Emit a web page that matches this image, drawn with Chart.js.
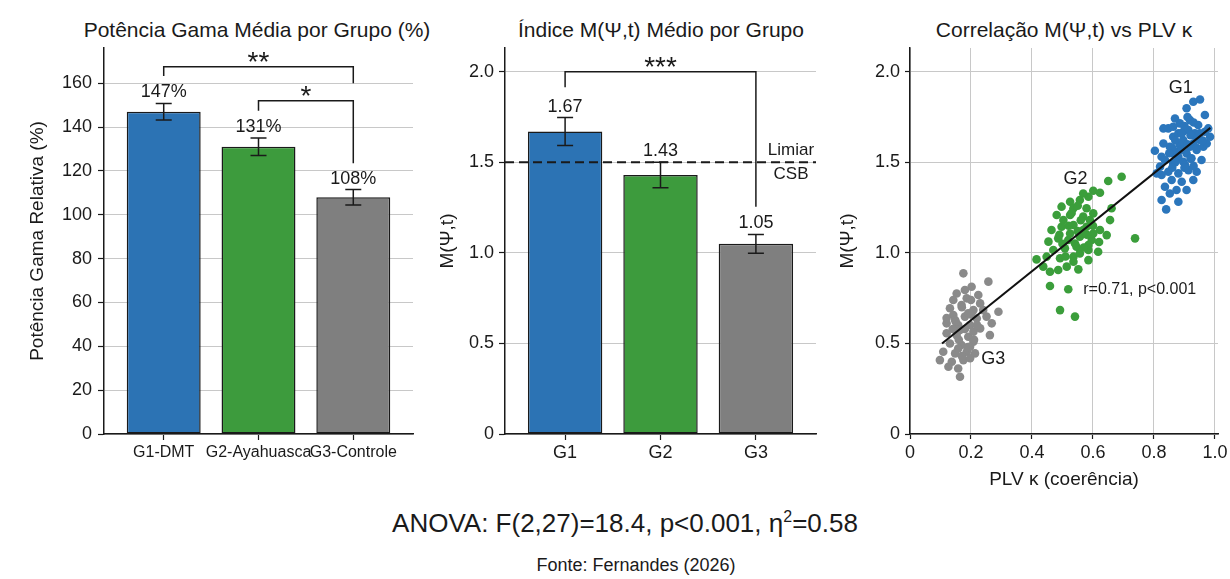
<!DOCTYPE html>
<html>
<head>
<meta charset="utf-8">
<script src="https://cdn.jsdelivr.net/npm/chart.js@4.4.1/dist/chart.umd.min.js"></script>
<style>
body { margin: 0; background: #fff; font-family: "Liberation Sans", Arial, sans-serif; color: #1a1a1a; }
#wrap { position: relative; width: 1230px; height: 579px; overflow: hidden; }
canvas { position: absolute; top: 0; }
.t { position: absolute; text-align: center; white-space: nowrap; }
.ttl { top: 18px; width: 600px; font-size: 21px; line-height: 24px; }
</style>
</head>
<body>
<div id="wrap">
  <div class="t ttl" style="left:-43px">Potência Gama Média por Grupo (%)</div>
  <div class="t ttl" style="left:361px">Índice M(Ψ,t) Médio por Grupo</div>
  <div class="t ttl" style="left:764px">Correlação M(Ψ,t) vs PLV κ</div>
  <canvas id="c1" width="425" height="500" style="left:0"></canvas>
  <canvas id="c2" width="410" height="500" style="left:425px"></canvas>
  <canvas id="c3" width="395" height="500" style="left:835px"></canvas>
  <div class="t" style="left:225px;width:800px;top:508px;font-size:26px;line-height:30px">ANOVA: F(2,27)=18.4, p&lt;0.001, η<sup style="font-size:16px;line-height:0">2</sup>=0.58</div>
  <div class="t" style="left:336px;width:600px;top:554px;font-size:18px;line-height:22px">Fonte: Fernandes (2026)</div>
</div>
<script>
// --- data ---
var groups = ["G1-DMT", "G2-Ayahuasca", "G3-Controle"];
var groupsShort = ["G1", "G2", "G3"];
var gammaMean = [147, 131, 108];
var gammaErr = [3.8, 4.0, 3.5];
var mpsiMean = [1.67, 1.43, 1.05];
var mpsiErr = [0.077, 0.07, 0.052];
var gammaTicks = [0, 20, 40, 60, 80, 100, 120, 140, 160];
var mpsiTicks = [0, 0.5, 1.0, 1.5, 2.0];
var plvTicks = [0, 0.2, 0.4, 0.6, 0.8, 1.0];
var csbThreshold = 1.5;
var gammaSig = [
    { from: 0, to: 2, top: 167.6, fromEnd: 163.3, toEnd: 160, mark: "**" },
    { from: 1, to: 2, top: 152, fromEnd: 147.5, toEnd: 123.5, mark: "*" }
];
var mpsiSig = [
    { from: 0, to: 2, top: 2.0, fromEnd: 1.914, toEnd: 1.254, mark: "***" }
];
// PLV k, M(psi,t) pairs per group
var g1Points = [[0.951,1.847],[0.929,1.834],[0.907,1.798],[0.967,1.761],[0.869,1.742],[0.847,1.687],[0.831,1.687],[0.918,1.733],[0.945,1.706],[0.885,1.715],
    [0.984,1.641],[0.967,1.669],[0.803,1.564],[0.825,1.531],[0.863,1.641],[0.896,1.623],[0.929,1.604],[0.852,1.586],[0.874,1.558],[0.907,1.549],
    [0.940,1.568],[0.962,1.586],[0.836,1.513],[0.863,1.494],[0.896,1.503],[0.923,1.522],[0.820,1.476],[0.847,1.448],[0.880,1.439],[0.913,1.457],
    [0.940,1.448],[0.825,1.430],[0.858,1.402],[0.891,1.393],[0.836,1.365],[0.874,1.347],[0.907,1.347],[0.825,1.292],[0.880,1.282],[0.840,1.240],
    [0.896,1.669],[0.934,1.660],[0.863,1.696],[0.951,1.623],[0.918,1.586],[0.885,1.595],[0.831,1.604],[0.973,1.604],[0.956,1.513],[0.863,1.549],
    [0.809,1.439],[0.929,1.402],[0.852,1.328],[0.902,1.485],[0.913,1.678],[0.978,1.687],[0.880,1.660],[0.870,1.620],[0.900,1.700],[0.920,1.650],
    [0.940,1.630],[0.890,1.570],[0.910,1.600],[0.860,1.580],[0.950,1.660],[0.880,1.530],[0.920,1.520],[0.900,1.470],[0.870,1.500],[0.940,1.580],
    [0.930,1.720],[0.960,1.620],[0.850,1.550],[0.890,1.660],[0.910,1.750],[0.860,1.470],[0.930,1.480]];
var g2Points = [[0.694,1.420],[0.650,1.397],[0.601,1.343],[0.623,1.332],[0.585,1.310],[0.557,1.292],[0.525,1.282],[0.497,1.255],[0.536,1.246],[0.579,1.246],
    [0.661,1.246],[0.481,1.209],[0.525,1.209],[0.568,1.200],[0.601,1.218],[0.656,1.181],[0.464,1.126],[0.497,1.144],[0.536,1.154],[0.579,1.144],
    [0.623,1.126],[0.645,1.098],[0.738,1.080],[0.454,1.062],[0.486,1.080],[0.519,1.071],[0.557,1.089],[0.596,1.071],[0.470,1.016],[0.508,1.025],
    [0.546,1.034],[0.585,1.016],[0.617,1.006],[0.415,0.964],[0.448,0.979],[0.492,0.970],[0.536,0.979],[0.585,0.960],[0.437,0.924],[0.459,0.896],
    [0.486,0.905],[0.514,0.924],[0.552,0.909],[0.459,0.817],[0.519,0.799],[0.492,0.684],[0.541,0.648],[0.557,0.997],[0.525,1.107],[0.568,1.126],
    [0.601,1.107],[0.503,1.181],[0.590,1.181],[0.541,1.052],[0.585,1.043],[0.536,0.951],[0.568,1.328],[0.550,1.120],[0.520,1.150],[0.580,1.100],
    [0.500,1.050],[0.560,1.180],[0.530,1.220],[0.600,1.150],[0.490,1.100],[0.570,1.030],[0.620,1.060],[0.510,0.980],[0.550,1.260]];
var g3Points = [[0.175,0.887],[0.257,0.841],[0.202,0.813],[0.153,0.776],[0.224,0.767],[0.142,0.740],[0.186,0.749],[0.230,0.721],[0.131,0.694],[0.169,0.712],
    [0.208,0.684],[0.290,0.675],[0.142,0.657],[0.180,0.648],[0.219,0.638],[0.251,0.648],[0.268,0.611],[0.120,0.611],[0.158,0.602],[0.197,0.602],
    [0.230,0.583],[0.120,0.556],[0.153,0.546],[0.191,0.537],[0.262,0.546],[0.131,0.500],[0.169,0.491],[0.208,0.510],[0.109,0.454],[0.148,0.445],
    [0.186,0.454],[0.213,0.445],[0.098,0.408],[0.137,0.399],[0.175,0.408],[0.197,0.418],[0.126,0.371],[0.158,0.362],[0.164,0.316],[0.191,0.666],
    [0.164,0.574],[0.208,0.565],[0.180,0.795],[0.158,0.472],[0.240,0.684],[0.148,0.629],[0.197,0.482],[0.170,0.700],[0.200,0.660],[0.150,0.620],
    [0.180,0.580],[0.210,0.520],[0.160,0.520],[0.190,0.480],[0.140,0.580],[0.220,0.600],[0.170,0.430],[0.200,0.740],[0.120,0.640]];
var fitPlv = [0.105, 0.985];
var fitM = [0.50, 1.69];

var FONT = '"Liberation Sans", Arial, sans-serif';
var INK = "#1a1a1a";
var barColors = ["#2c73b4", "#3d9b3d", "#7f7f7f"];
Chart.defaults.font.family = FONT;
Chart.defaults.color = INK;

function fmtTick(v) { return v === 0 ? "0" : v.toFixed(1); }
function setTicks(list) { return function(s) { s.ticks = list.map(function(v) { return { value: v }; }); }; }
function toXY(arr) { return arr.map(function(p) { return { x: p[0], y: p[1] }; }); }

// error bars, value labels, significance brackets and threshold for the bar panels
function barExtras(means, errs, fmt, sig, threshold) {
    return {
        id: "barExtras",
        afterDatasetsDraw: function(chart) {
            var ctx = chart.ctx, xs = chart.scales.x, ys = chart.scales.y, ca = chart.chartArea;
            ctx.save();
            ctx.strokeStyle = INK;
            ctx.fillStyle = INK;
            if (threshold != null) {
                var ty = ys.getPixelForValue(threshold);
                ctx.lineWidth = 2;
                ctx.setLineDash([9, 5]);
                ctx.beginPath(); ctx.moveTo(ca.left, ty); ctx.lineTo(ca.right, ty); ctx.stroke();
                ctx.setLineDash([]);
                ctx.font = "17px " + FONT;
                ctx.textAlign = "center"; ctx.textBaseline = "middle";
                ctx.fillText("Limiar", ca.right - 25, ty - 12);
                ctx.fillText("CSB", ca.right - 25, ty + 12);
            }
            ctx.lineWidth = 1.5;
            means.forEach(function(m, i) {
                var px = xs.getPixelForValue(i);
                var t = ys.getPixelForValue(m + errs[i]), b = ys.getPixelForValue(m - errs[i]);
                ctx.beginPath();
                ctx.moveTo(px, t); ctx.lineTo(px, b);
                ctx.moveTo(px - 8, t); ctx.lineTo(px + 8, t);
                ctx.moveTo(px - 8, b); ctx.lineTo(px + 8, b);
                ctx.stroke();
                ctx.font = "18px " + FONT;
                ctx.textAlign = "center"; ctx.textBaseline = "alphabetic";
                ctx.fillText(fmt(m), px, t - 6);
            });
            sig.forEach(function(s) {
                var xa = xs.getPixelForValue(s.from), xb = xs.getPixelForValue(s.to), yt = ys.getPixelForValue(s.top);
                ctx.beginPath();
                ctx.moveTo(xa, ys.getPixelForValue(s.fromEnd)); ctx.lineTo(xa, yt);
                ctx.lineTo(xb, yt); ctx.lineTo(xb, ys.getPixelForValue(s.toEnd));
                ctx.stroke();
                ctx.font = "28px " + FONT;
                ctx.textAlign = "center"; ctx.textBaseline = "alphabetic";
                var mt = ctx.measureText(s.mark);
                ctx.fillText(s.mark, (xa + xb) / 2, yt - 10 + (mt.actualBoundingBoxAscent - mt.actualBoundingBoxDescent) / 2);
            });
            ctx.restore();
        }
    };
}

function barChart(id, labels, labelSize, means, errs, fmt, yMax, yTicks, yFmt, yTitle, pad, yWidth, yTickPad, xTickPad, sig, threshold) {
    return new Chart(document.getElementById(id), {
        type: "bar",
        data: {
            datasets: [{
                data: means.map(function(v, i) { return { x: i, y: v }; }),
                backgroundColor: barColors,
                borderColor: INK,
                borderWidth: 1.5,
                borderSkipped: false,
                categoryPercentage: 1,
                barPercentage: 0.78
            }]
        },
        options: {
            responsive: false, animation: false, events: [],
            layout: { padding: pad },
            plugins: { legend: { display: false }, tooltip: { enabled: false } },
            scales: {
                x: {
                    type: "linear", min: -0.63, max: 2.63, offset: false,
                    afterBuildTicks: setTicks(labels.map(function(_, i) { return i; })),
                    ticks: { callback: function(v) { return labels[v]; }, font: { size: labelSize }, padding: xTickPad, maxRotation: 0, autoSkip: false },
                    grid: { offset: false, drawOnChartArea: false, tickLength: 6, tickColor: INK, tickWidth: 1.2 },
                    border: { color: INK, width: 1.5 },
                    afterFit: function(s) { s.height = 46; s.paddingLeft = 0; s.paddingRight = 0; }
                },
                y: {
                    min: 0, max: yMax,
                    afterBuildTicks: setTicks(yTicks),
                    ticks: { callback: yFmt, font: { size: 18 }, padding: yTickPad },
                    grid: { color: "#c8c8c8", lineWidth: 1, tickLength: 6, tickColor: INK, tickWidth: 1.2 },
                    border: { color: INK, width: 1.5 },
                    title: { display: true, text: yTitle, font: { size: 19 }, padding: 0 },
                    afterFit: function(s) { s.width = yWidth; }
                }
            }
        },
        plugins: [barExtras(means, errs, fmt, sig, threshold)]
    });
}

barChart("c1", groups, 16, gammaMean, gammaErr, function(v) { return v + "%"; },
    176.1, gammaTicks, function(v) { return String(v); }, "Potência Gama Relativa (%)",
    { left: 26.6, right: 12, top: 48, bottom: 20 }, 77.4, 6, 3, gammaSig, null);

barChart("c2", groupsShort, 18, mpsiMean, mpsiErr, function(v) { return v.toFixed(2); },
    2.131, mpsiTicks, fmtTick, "M(Ψ,t)",
    { left: 11.1, right: 19, top: 48, bottom: 20 }, 68.9, 5, 2, mpsiSig, csbThreshold);

// scatter panel notes (data coordinates)
var scatterNotes = [
    { x: 0.888, y: 1.908, text: "G1", size: 18, align: "center" },
    { x: 0.543, y: 1.408, text: "G2", size: 18, align: "center" },
    { x: 0.273, y: 0.414, text: "G3", size: 18, align: "center" },
    { x: 0.568, y: 0.795, text: "r=0.71, p<0.001", size: 16, align: "left" }
];
var notesPlugin = {
    id: "notes",
    afterDatasetsDraw: function(chart) {
        var ctx = chart.ctx, xs = chart.scales.x, ys = chart.scales.y;
        ctx.save();
        ctx.fillStyle = INK;
        ctx.textBaseline = "middle";
        scatterNotes.forEach(function(n) {
            ctx.font = n.size + "px " + FONT;
            ctx.textAlign = n.align;
            ctx.fillText(n.text, xs.getPixelForValue(n.x), ys.getPixelForValue(n.y));
        });
        ctx.restore();
    }
};

new Chart(document.getElementById("c3"), {
    type: "scatter",
    data: {
        datasets: [
            { data: fitPlv.map(function(v, i) { return { x: v, y: fitM[i] }; }), showLine: true, borderColor: "#111", borderWidth: 2, pointRadius: 0, order: 0 },
            { data: toXY(g1Points), backgroundColor: "#2b76bc", pointRadius: 4.3, borderWidth: 0, order: 1 },
            { data: toXY(g2Points), backgroundColor: "#3b9e3b", pointRadius: 4.3, borderWidth: 0, order: 1 },
            { data: toXY(g3Points), backgroundColor: "#8a8a8a", pointRadius: 4.3, borderWidth: 0, order: 1 }
        ]
    },
    options: {
        responsive: false, animation: false, events: [],
        layout: { padding: { left: 1.6, right: 12, top: 48, bottom: 8.6 } },
        plugins: { legend: { display: false }, tooltip: { enabled: false } },
        scales: {
            x: {
                type: "linear", min: 0, max: 1.01,
                afterBuildTicks: setTicks(plvTicks),
                ticks: { callback: fmtTick, font: { size: 18 }, padding: 3, maxRotation: 0, autoSkip: false },
                grid: { color: "#c8c8c8", lineWidth: 1, tickLength: 5, tickColor: INK, tickWidth: 1.2 },
                border: { color: INK, width: 1.5 },
                title: { display: true, text: "PLV κ (coerência)", font: { size: 19 }, padding: 0 },
                afterFit: function(s) { s.height = 57.4; s.paddingLeft = 0; s.paddingRight = 0; }
            },
            y: {
                min: 0, max: 2.131,
                afterBuildTicks: setTicks(mpsiTicks),
                ticks: { callback: fmtTick, font: { size: 18 }, padding: 5 },
                grid: { color: "#c8c8c8", lineWidth: 1, tickLength: 5, tickColor: INK, tickWidth: 1.2 },
                border: { color: INK, width: 1.5 },
                title: { display: true, text: "M(Ψ,t)", font: { size: 19 }, padding: 0 },
                afterFit: function(s) { s.width = 73.4; }
            }
        }
    },
    plugins: [notesPlugin]
});
</script>
</body>
</html>
